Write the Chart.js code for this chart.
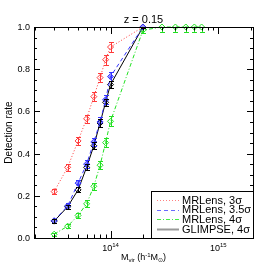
<!DOCTYPE html>
<html>
<head>
<meta charset="utf-8">
<script src="https://cdn.jsdelivr.net/npm/chart.js@4"></script>
<style>
  html, body { margin: 0; padding: 0; background: #fff; }
  canvas { display: block; }
</style>
</head>
<body>
<canvas id="rateChart" width="274" height="274"></canvas>
<script>
// halo masses (h^-1 M_sun)
var masses = [3e13, 4e13, 5e13, 6e13, 7e13, 8e13, 9e13, 1e14, 2e14];
var greenMasses = [3e13, 4e13, 5e13, 6e13, 7e13, 8e13, 9e13, 1e14, 2e14, 3e14, 4e14, 5e14, 6e14, 7e14];

var mrlens3 = [0.22, 0.335, 0.46, 0.565, 0.67, 0.76, 0.845, 0.905, 1.0];
var mrlens3Err = [0.013, 0.016, 0.018, 0.02, 0.021, 0.022, 0.023, 0.022, 0.004];
var mrlens35 = [0.082, 0.152, 0.26, 0.35, 0.455, 0.55, 0.655, 0.765, 1.0];
var mrlens35Err = [0.01, 0.013, 0.017, 0.019, 0.021, 0.022, 0.022, 0.022, 0.004];
var mrlens4 = [0.018, 0.056, 0.107, 0.162, 0.245, 0.345, 0.452, 0.553, 0.985, 1.0, 1.0, 1.0, 1.0, 1.0];
var mrlens4Err = [0.007, 0.01, 0.013, 0.016, 0.018, 0.02, 0.022, 0.023, 0.015, 0.022, 0.022, 0.022, 0.022, 0.022];
var glimpse4 = [0.08, 0.148, 0.228, 0.335, 0.437, 0.545, 0.643, 0.727, 1.0];
var glimpse4Err = [0.008, 0.01, 0.012, 0.015, 0.017, 0.018, 0.018, 0.018, 0.004];

var yTicks = [0.0, 0.2, 0.4, 0.6, 0.8, 1.0];
var xTickExps = [14, 15];

function pts(xs, ys) {
  return xs.map(function (x, i) { return { x: x, y: ys[i] }; });
}

var FONT = '"Liberation Sans", Arial, Helvetica, sans-serif';

var errorBars = {
  id: 'errorBars',
  afterDatasetsDraw: function (chart) {
    var ctx = chart.ctx, a = chart.chartArea;
    var xs = chart.scales.x, ys = chart.scales.y;
    ctx.save();
    ctx.beginPath();
    ctx.rect(a.left, a.top, a.right - a.left, a.bottom - a.top);
    ctx.clip();
    chart.data.datasets.forEach(function (ds) {
      if (!ds.errors) return;
      ctx.strokeStyle = ds.borderColor;
      ctx.lineWidth = 1;
      ds.data.forEach(function (p, i) {
        var e = ds.errors[i];
        var px = Math.round(xs.getPixelForValue(p.x)) + 0.5;
        var y1 = Math.round(ys.getPixelForValue(p.y + e)) + 0.5;
        var y2 = Math.round(ys.getPixelForValue(p.y - e)) + 0.5;
        ctx.beginPath();
        ctx.moveTo(px, y1); ctx.lineTo(px, y2);
        ctx.moveTo(px - 2.5, y1); ctx.lineTo(px + 2.5, y1);
        ctx.moveTo(px - 2.5, y2); ctx.lineTo(px + 2.5, y2);
        ctx.stroke();
      });
    });
    ctx.restore();
  }
};

var frame = {
  id: 'frame',
  afterDraw: function (chart) {
    var ctx = chart.ctx, a = chart.chartArea;
    var xs = chart.scales.x, ys = chart.scales.y;
    var L = a.left, R = a.right, T = a.top, B = a.bottom;
    ctx.save();
    ctx.strokeStyle = '#000';
    ctx.lineWidth = 1;
    ctx.beginPath();
    // y ticks every 0.05, majors every 0.2
    for (var k = 0; k <= 20; k++) {
      var v = k * 0.05;
      var py = Math.round(ys.getPixelForValue(v)) + 0.5;
      var len = (k % 4 === 0) ? 6 : 3;
      ctx.moveTo(L, py); ctx.lineTo(L + len, py);
      ctx.moveTo(R, py); ctx.lineTo(R - len, py);
    }
    // x ticks, log
    for (var d = 13; d <= 15; d++) {
      for (var m = 1; m <= 9; m++) {
        var val = m * Math.pow(10, d);
        if (val < xs.min || val > xs.max) continue;
        var px = Math.round(xs.getPixelForValue(val)) + 0.5;
        var l2 = (m === 1) ? 7 : 3.5;
        ctx.moveTo(px, B); ctx.lineTo(px, B - l2);
        ctx.moveTo(px, T); ctx.lineTo(px, T + l2);
      }
    }
    ctx.stroke();
    ctx.strokeRect(Math.round(L) + 0.5, Math.round(T) + 0.5, Math.round(R - L), Math.round(B - T));

    // y tick labels
    ctx.fillStyle = '#000';
    ctx.font = '9px ' + FONT;
    ctx.textAlign = 'right';
    ctx.textBaseline = 'middle';
    yTicks.forEach(function (t) {
      ctx.fillText(t.toFixed(1), L - 4, ys.getPixelForValue(t) + 0.5);
    });

    // x tick labels 10^n
    xTickExps.forEach(function (e) {
      var px = xs.getPixelForValue(Math.pow(10, e));
      ctx.font = '9px ' + FONT;
      var w1 = ctx.measureText('10').width;
      ctx.font = '6px ' + FONT;
      var w2 = ctx.measureText(String(e)).width;
      var x0 = px - (w1 + w2) / 2;
      ctx.textAlign = 'left';
      ctx.textBaseline = 'alphabetic';
      ctx.font = '9px ' + FONT;
      ctx.fillText('10', x0, B + 13);
      ctx.font = '6px ' + FONT;
      ctx.fillText(String(e), x0 + w1, B + 9);
    });

    // title
    ctx.font = '11px ' + FONT;
    ctx.textAlign = 'center';
    ctx.fillText('z = 0.15', (L + R) / 2, T - 4);

    // x axis title: M_vir (h^-1 M_sun)
    var parts = [
      ['M', 9, 0], ['vir', 6, 2], [' (h', 9, 0], ['-1', 6, -3], ['M', 9, 0], ['\u2299', 6, 2], [')', 9, 0]
    ];
    var total = 0;
    parts.forEach(function (p) { ctx.font = p[1] + 'px ' + FONT; p.push(ctx.measureText(p[0]).width); total += p[3]; });
    var cx = (L + R) / 2 - total / 2;
    ctx.textAlign = 'left';
    parts.forEach(function (p) {
      ctx.font = p[1] + 'px ' + FONT;
      ctx.fillText(p[0], cx, B + 22 + p[2]);
      cx += p[3];
    });

    // y axis title
    ctx.save();
    ctx.translate(12, (T + B) / 2);
    ctx.rotate(-Math.PI / 2);
    ctx.font = '10px ' + FONT;
    ctx.textAlign = 'center';
    ctx.textBaseline = 'alphabetic';
    ctx.fillText('Detection rate', 0, 0);
    ctx.restore();

    // legend box in lower right corner
    var bx = Math.round(R) - 102, by = Math.round(B) - 47;
    ctx.fillStyle = '#fff';
    ctx.fillRect(bx, by, 102, 47);
    ctx.strokeRect(bx + 0.5, by + 0.5, 102, 47);
    var order = [0, 1, 2, 3];
    order.forEach(function (i, row) {
      var ds = chart.data.datasets[i];
      var ly = by + 9 + row * 9.7;
      ctx.save();
      ctx.beginPath();
      ctx.setLineDash(ds.borderDash || []);
      ctx.strokeStyle = ds.legendColor || ds.borderColor;
      ctx.lineWidth = ds.legendWidth || 1;
      ctx.moveTo(bx + 6, Math.round(ly) + 0.5);
      ctx.lineTo(bx + 28, Math.round(ly) + 0.5);
      ctx.stroke();
      ctx.restore();
      ctx.fillStyle = '#000';
      ctx.font = '11px ' + FONT;
      ctx.textAlign = 'left';
      ctx.textBaseline = 'middle';
      ctx.fillText(ds.label, bx + 31, ly + 0.5);
    });
    ctx.restore();
  }
};

new Chart(document.getElementById('rateChart'), {
  type: 'line',
  data: {
    datasets: [{
      label: 'MRLens, 3\u03c3',
      data: pts(masses, mrlens3),
      errors: mrlens3Err,
      borderColor: '#ff3a3a',
      legendColor: '#ff8080',
      pointBackgroundColor: 'rgba(0,0,0,0)',
      borderDash: [1, 2],
      order: 4
    }, {
      label: 'MRLens, 3.5\u03c3',
      data: pts(masses, mrlens35),
      errors: mrlens35Err,
      borderColor: '#3434ff',
      legendColor: '#6a6aff',
      pointBackgroundColor: 'rgba(52,52,255,0.5)',
      borderDash: [4, 3],
      order: 2
    }, {
      label: 'MRLens, 4\u03c3',
      data: pts(greenMasses, mrlens4),
      errors: mrlens4Err,
      borderColor: '#22e022',
      legendColor: '#44ee44',
      pointBackgroundColor: 'rgba(0,0,0,0)',
      borderDash: [4, 2, 1, 2],
      order: 1
    }, {
      label: 'GLIMPSE, 4\u03c3',
      data: pts(masses, glimpse4),
      errors: glimpse4Err,
      borderColor: '#000000',
      legendColor: '#999999',
      legendWidth: 2,
      pointBackgroundColor: 'rgba(0,0,0,0)',
      order: 3
    }]
  },
  options: {
    responsive: false,
    animation: false,
    devicePixelRatio: 1,
    layout: { padding: { left: 34, top: 27, right: 21, bottom: 36 } },
    elements: {
      line: { borderWidth: 1, tension: 0, fill: false },
      point: { pointStyle: 'rectRot', radius: 3, borderWidth: 1 }
    },
    datasets: { line: { clip: false } },
    scales: {
      x: { type: 'logarithmic', display: false, min: 1.95e13, max: 2.1e15 },
      y: { type: 'linear', display: false, min: 0, max: 1 }
    },
    plugins: { legend: { display: false }, tooltip: { enabled: false } }
  },
  plugins: [errorBars, frame]
});
</script>
</body>
</html>
